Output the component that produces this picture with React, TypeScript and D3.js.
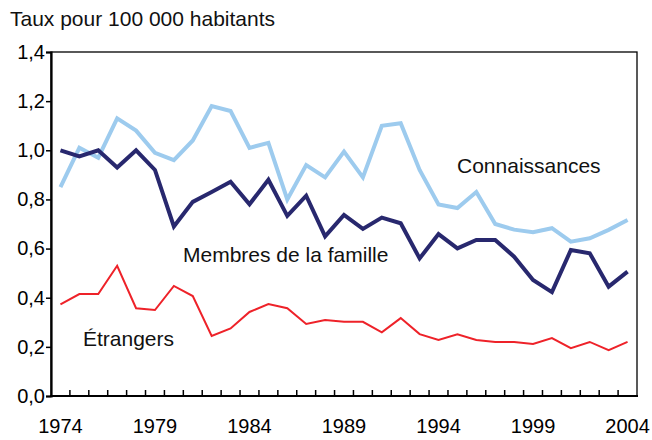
import * as d3 from 'd3';
import { useEffect, useRef } from 'react';

const years = d3.range(1974, 2005);
const yTicks = [0, 0.2, 0.4, 0.6, 0.8, 1.0, 1.2, 1.4];
const xLabelYears = [1974, 1979, 1984, 1989, 1994, 1999, 2004];

const connaissances = [
  0.85, 1.01, 0.97, 1.13, 1.08, 0.99, 0.96, 1.04, 1.18, 1.16, 1.01, 1.03, 0.8,
  0.94, 0.89, 0.995, 0.89, 1.1, 1.11, 0.92, 0.78, 0.765, 0.83, 0.7, 0.677,
  0.667, 0.683, 0.628, 0.642, 0.676, 0.716,
];
const famille = [
  1.0, 0.975, 1.0, 0.93, 1.0, 0.92, 0.69, 0.79, 0.83, 0.872, 0.78, 0.88, 0.733,
  0.815, 0.65, 0.737, 0.68, 0.726, 0.703, 0.56, 0.659, 0.601, 0.635, 0.635,
  0.567, 0.472, 0.423, 0.594, 0.581, 0.445, 0.506,
];
const etrangers = [
  0.373, 0.415, 0.415, 0.53, 0.357, 0.35, 0.448, 0.407, 0.244, 0.275, 0.342,
  0.374, 0.357, 0.293, 0.309, 0.302, 0.302, 0.259, 0.317, 0.252, 0.228, 0.251,
  0.228, 0.22, 0.22, 0.212, 0.236, 0.195, 0.22, 0.187, 0.22,
];

const App = () => {
  const ref = useRef(null);

  useEffect(() => {
    const svg = d3.select(ref.current);
    svg.selectAll('*').remove();
    const font = 'Liberation Sans, Arial, sans-serif';
    const left = 51, right = 637, top = 52, bottom = 396;

    const x = d3.scaleBand<number>().domain(years).range([left, right]);
    const y = d3.scaleLinear().domain([0, 1.4]).range([bottom, top]);
    const cx = (yr: number) => (x(yr) as number) + x.bandwidth() / 2;

    // frame
    svg.append('rect')
      .attr('x', left).attr('y', top)
      .attr('width', right - left).attr('height', bottom - top)
      .attr('fill', 'none').attr('stroke', '#000').attr('stroke-width', 1.3);

    // y axis
    const yAxis = svg.append('g')
      .attr('transform', `translate(${left},0)`)
      .call(d3.axisLeft(y).tickValues(yTicks).tickSize(5).tickPadding(1)
        .tickFormat(d => d3.format('.1f')(d as number).replace('.', ',')));
    yAxis.select('.domain').attr('stroke-width', 2.2);
    yAxis.selectAll('.tick line').attr('stroke-width', 1.5);
    yAxis.selectAll('text').attr('font-family', font).attr('font-size', 20)
      .attr('fill', '#000');

    // x axis: category ticks between years, pointing up
    const boundaries = years.slice(1).map(yr => x(yr) as number);
    const xAxis = svg.append('g');
    xAxis.append('line')
      .attr('x1', left - 1).attr('x2', right + 1)
      .attr('y1', bottom).attr('y2', bottom)
      .attr('stroke', '#000').attr('stroke-width', 2.2);
    xAxis.selectAll('line.tk').data(boundaries).enter().append('line')
      .attr('class', 'tk')
      .attr('x1', d => d).attr('x2', d => d)
      .attr('y1', bottom).attr('y2', bottom - 6)
      .attr('stroke', '#000').attr('stroke-width', 1.5);
    xAxis.selectAll('text').data(xLabelYears).enter().append('text')
      .attr('x', d => cx(d)).attr('y', 433)
      .attr('text-anchor', 'middle')
      .attr('font-family', font).attr('font-size', 20)
      .text(d => d);

    const line = d3.line<number>()
      .x((_, i) => cx(years[i]))
      .y(d => y(d));

    const series = [
      { data: connaissances, color: '#9dcbee', width: 4 },
      { data: famille, color: '#28286e', width: 4 },
      { data: etrangers, color: '#ee2229', width: 2 },
    ];
    series.forEach(s => {
      svg.append('path')
        .attr('d', line(s.data))
        .attr('fill', 'none')
        .attr('stroke', s.color)
        .attr('stroke-width', s.width)
        .attr('stroke-linejoin', 'miter');
    });

    // labels
    const labels = [
      { text: 'Taux pour 100 000 habitants', x: 10, y: 26, size: 21 },
      { text: 'Connaissances', x: 457, y: 173, size: 21 },
      { text: 'Membres de la famille', x: 183, y: 262, size: 21 },
      { text: 'Étrangers', x: 83, y: 346, size: 21 },
    ];
    svg.selectAll('text.lbl').data(labels).enter().append('text')
      .attr('class', 'lbl')
      .attr('x', d => d.x).attr('y', d => d.y)
      .attr('font-family', font).attr('font-size', d => d.size)
      .attr('fill', '#111')
      .text(d => d.text);
  }, []);

  return (
    <svg ref={ref} width={652} height={440}
      style={{ position: 'absolute', left: 0, top: 0, background: '#fff' }} />
  );
};

export default App;
